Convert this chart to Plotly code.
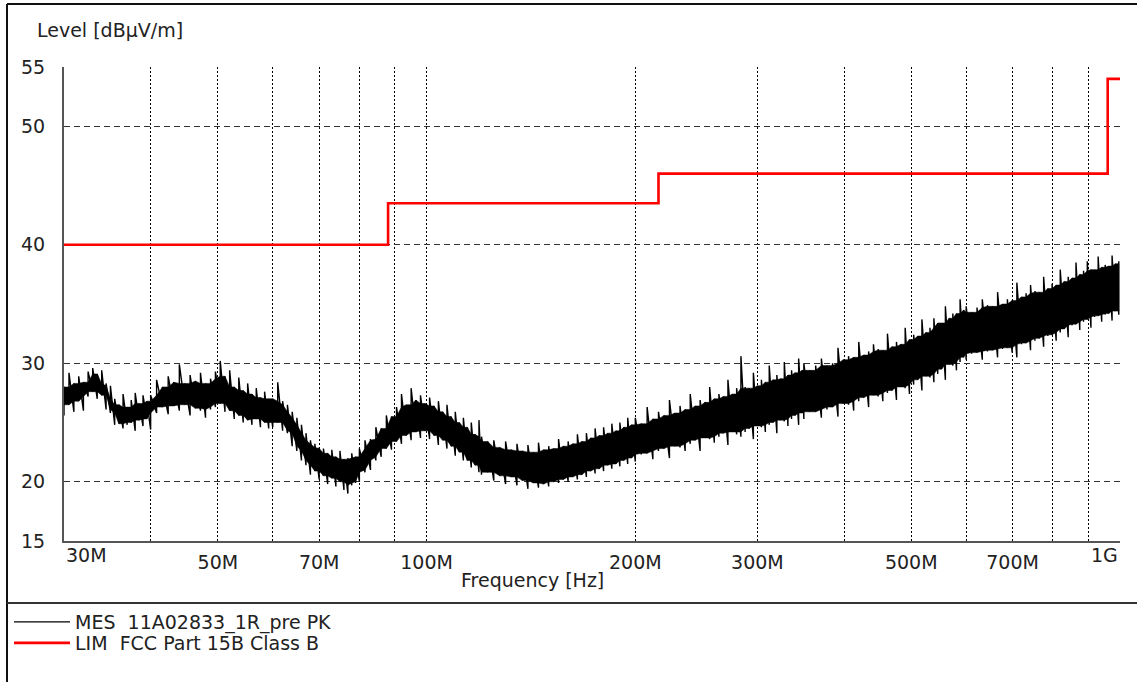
import math
import plotly.graph_objects as go

# ---------------- data ----------------
mes_freq = [
    30.0, 30.5, 31.0, 31.5, 32.0, 32.5, 33.0, 33.5, 34.0, 34.5, 35.0, 35.5, 36.0, 36.5, 37.0, 37.5, 38.0, 38.5, 39.0, 39.5,
    40.0, 40.8, 41.6, 42.4, 43.2, 44.0, 44.8, 45.6, 46.4, 47.2, 48.0, 48.8, 49.6, 50.4, 51.2, 52.0, 52.8, 53.6, 54.4, 55.2,
    56.0, 56.8, 57.6, 58.4, 59.2,
    60, 61, 62, 63, 64, 65, 66, 67, 68, 69, 70, 71, 72, 73, 74, 75, 76, 77, 78, 79,
    80, 81.5, 83, 84.5, 86, 87.5, 89, 90.5, 92, 93.5, 95, 96.5, 98, 99.5, 101, 102.5, 104, 105.5, 107, 108.5,
    110, 111.5, 113, 114.5, 116, 117.5, 119,
    120.0, 122.5, 125.0, 127.5, 130.0, 132.5, 135.0, 137.5, 140.0, 142.5, 145.0, 147.5, 150.0, 152.5, 155.0, 157.5,
    160.0, 162.5, 165.0, 167.5, 170.0, 172.5, 175.0, 177.5, 180.0, 182.5, 185.0, 187.5, 190.0, 192.5, 195.0, 197.5,
    200, 204, 208, 212, 216, 220, 224, 228, 232, 236, 240, 244, 248, 252, 256, 260, 264, 268, 272, 276,
    280, 284, 288, 292, 296, 300, 304, 308, 312, 316, 320, 324, 328, 332, 336, 340, 344, 348,
    350, 357, 364, 371, 378, 385, 392, 399, 406, 413, 420, 427, 434, 441, 448, 455, 462, 469,
    476, 483, 490, 497, 504, 511, 518, 525, 532, 539, 546, 553, 560, 567, 574, 581, 588, 595,
    600, 611, 622, 633, 644, 655, 666, 677, 688, 699, 710, 721, 732, 743, 754, 765, 776, 787, 798,
    809, 820, 831, 842, 853, 864, 875, 886, 897, 908, 919, 930, 941, 952, 963, 974, 985, 996,
]
mes_low = [
    25.6, 26.5, 25.9, 26.8, 26.0, 27.2, 27.6, 27.0, 27.3, 26.1, 25.8, 24.8, 24.9, 24.5, 24.8, 25.0, 24.3, 25.2, 24.7, 25.3,
    24.4, 25.8, 26.3, 25.7, 26.4, 26.0, 26.5, 25.6, 26.2, 26.0, 25.4, 26.1, 26.3, 26.6, 25.9, 26.0, 25.3, 25.6, 25.0, 25.2,
    24.8, 25.3, 24.6, 25.0, 24.5,
    24.6, 25.0, 24.3, 24.1, 23.0, 22.6, 21.8, 21.4, 20.6, 20.9, 20.2, 20.5, 19.8, 20.3, 19.6, 20.0, 19.3, 19.0, 19.7, 19.9,
    20.0, 20.8, 21.0, 21.8, 22.1, 22.8, 22.7, 23.4, 23.2, 23.9, 23.5, 24.2, 23.7, 24.3, 23.6, 23.9, 23.1, 23.5, 22.8, 23.0,
    22.2, 22.5, 21.8, 21.8, 21.2, 21.4, 20.8,
    20.6, 20.8, 20.1, 20.5, 19.8, 20.4, 19.7, 20.1, 19.4, 19.9, 19.5, 19.8, 19.6, 20.0, 19.9, 20.2,
    20.0, 20.4, 20.2, 20.6, 20.4, 20.9, 20.7, 21.1, 20.9, 21.4, 21.1, 21.5, 21.3, 21.8, 21.5, 22.0,
    21.7, 22.3, 22.4, 21.9, 22.6, 22.8, 22.0, 23.0, 22.9, 22.6, 23.2, 23.5, 22.6, 23.7, 23.6, 23.3, 23.8, 24.1, 23.1, 24.2,
    24.0, 23.8, 24.2, 24.5, 23.6, 24.7, 24.6, 24.2, 24.8, 25.0, 24.1, 25.2, 25.1, 24.7, 25.3, 25.6, 24.8, 25.8,
    25.3, 25.9, 25.9, 25.4, 26.1, 26.3, 25.5, 26.6, 26.5, 26.0, 26.8, 27.1, 26.3, 27.3, 27.2, 26.8, 27.5, 27.7,
    26.9, 28.0, 27.9, 27.4, 28.2, 28.6, 27.7, 28.9, 28.8, 28.4, 29.1, 29.5, 28.6, 29.9, 29.8, 29.4, 30.1, 30.5,
    30.3, 30.8, 30.9, 30.3, 31.0, 31.1, 30.5, 31.2, 31.3, 30.9, 30.5, 31.6, 31.7, 31.1, 31.9, 32.1, 31.4, 32.3, 32.4,
    31.9, 32.6, 32.9, 32.2, 33.2, 33.3, 32.8, 33.5, 33.7, 33.0, 33.9, 34.0, 33.5, 34.1, 34.2, 33.6, 34.4, 34.1,
]
mes_high = [
    28.0, 29.2, 28.3, 28.9, 28.4, 29.3, 29.6, 29.1, 29.4, 28.3, 28.1, 27.0, 26.5, 27.4, 26.3, 26.9, 27.5, 26.6, 27.3, 26.8,
    27.3, 28.6, 28.0, 28.9, 28.4, 29.9, 28.3, 29.0, 28.5, 29.2, 28.3, 28.7, 29.3, 30.2, 28.9, 29.4, 28.0, 28.8, 27.7, 28.3,
    27.4, 27.9, 27.1, 27.6, 27.0,
    27.0, 28.4, 26.8, 26.5, 25.9, 25.4, 24.8, 24.1, 23.5, 23.2, 22.9, 22.8, 22.4, 22.7, 22.1, 22.6, 21.9, 22.0, 22.4, 22.1,
    22.8, 23.5, 23.6, 24.6, 24.5, 25.6, 25.5, 26.3, 27.4, 26.5, 27.9, 26.9, 27.3, 26.6, 27.1, 26.4, 26.8, 25.9, 26.5, 25.5,
    25.9, 25.0, 25.4, 24.6, 25.0, 24.0, 25.2,
    23.8, 23.4, 23.5, 22.9, 23.4, 22.7, 23.2, 22.6, 23.1, 22.5, 23.3, 22.7, 23.0, 22.8, 23.6, 23.0,
    23.4, 23.2, 24.0, 23.4, 24.1, 23.7, 24.5, 23.9, 24.6, 24.1, 24.9, 24.3, 25.0, 24.6, 25.4, 24.8,
    25.4, 24.9, 26.3, 25.3, 25.9, 25.6, 26.9, 25.8, 26.4, 26.1, 27.4, 26.4, 26.9, 26.7, 28.0, 27.0, 27.4, 27.2, 28.6, 27.4,
    27.9, 30.6, 28.0, 27.9, 29.2, 28.1, 28.6, 28.4, 29.8, 28.6, 29.0, 28.7, 30.1, 29.0, 29.4, 29.2, 30.4, 29.4,
    30.0, 29.4, 29.8, 30.4, 29.8, 30.0, 31.3, 30.3, 30.6, 30.5, 31.8, 30.7, 31.0, 31.6, 31.2, 31.1, 32.5, 31.4,
    31.8, 31.6, 33.0, 32.0, 32.4, 32.3, 33.7, 32.6, 33.0, 33.8, 33.4, 33.4, 34.8, 33.8, 34.2, 34.2, 35.4, 34.5,
    34.8, 34.3, 34.7, 35.4, 34.9, 34.8, 36.0, 35.0, 35.4, 35.3, 36.8, 35.6, 35.9, 36.6, 36.1, 36.0, 37.3, 36.3, 36.7,
    36.6, 37.9, 36.9, 37.3, 37.2, 38.5, 37.5, 37.8, 38.6, 37.9, 37.9, 39.0, 38.1, 38.3, 38.2, 39.1, 38.4, 38.6,
]

# FCC Part 15B Class B limit (step function)
lim_freq = [30, 88, 216, 960, 1000]
lim_level = [40.0, 43.5, 46.0, 54.0, 54.0]

x_tick_vals = [30, 50, 70, 100, 200, 300, 500, 700, 1000]
x_tick_text = ["", "50M", "70M", "100M", "200M", "300M", "500M", "700M", ""]
x_minor_vals = [40, 60, 80, 90, 400, 600, 800, 900]
y_tick_vals = [15, 20, 30, 40, 50, 55]

mes_name = "MES  11A02833_1R_pre PK"
lim_name = "LIM  FCC Part 15B Class B"

# ---------------- figure ----------------
W, H = 1137, 682
L, R, T, B = 64, 17, 67, 141
PW, PH = W - L - R, H - T - B


def px(xp):
    return (xp - L) / PW


def py(yp):
    return (H - B - yp) / PH


# dense core of the noise band (overlap of neighbouring sweep points)
n = len(mes_freq)
core_hi, core_lo = [], []
for i in range(n):
    hi = min(mes_high[max(0, i - 1):i + 2])
    lo = max(mes_low[max(0, i - 1):i + 2])
    if lo > hi:
        lo = hi
    core_hi.append(hi)
    core_lo.append(lo)

# peak trace drawn as vertical low->high strokes at each sweep point
zx, zy = [], []
for f, lo, hi in zip(mes_freq, mes_low, mes_high):
    zx += [f, f]
    zy += [lo, hi]

FONT = "DejaVu Sans"
TXT = "#222222"
FS = 19

fig = go.Figure()
fig.add_trace(go.Scatter(x=mes_freq + mes_freq[::-1], y=core_hi + core_lo[::-1],
                         mode="lines", fill="toself", fillcolor="black",
                         line=dict(color="black", width=0.5),
                         showlegend=False, hoverinfo="skip", legendgroup="mes"))
fig.add_trace(go.Scatter(x=zx, y=zy, mode="lines", name=mes_name, legendgroup="mes",
                         line=dict(color="black", width=1.4), legend="legend"))
fig.add_trace(go.Scatter(x=lim_freq, y=lim_level, mode="lines", name=lim_name,
                         line=dict(color="#ff0000", width=2.6, shape="hv"), legend="legend2"))

legend_common = dict(xanchor="left", yanchor="top", bgcolor="rgba(0,0,0,0)",
                     font=dict(size=FS, family=FONT, color=TXT), itemwidth=56,
                     tracegroupgap=0)

fig.update_layout(
    width=W, height=H,
    margin=dict(l=L, r=R, t=T, b=B, autoexpand=False),
    paper_bgcolor="white", plot_bgcolor="white",
    font=dict(family=FONT, size=FS, color=TXT),
    showlegend=True,
    legend=dict(x=px(9), y=py(603), **legend_common),
    legend2=dict(x=px(9), y=py(624), **legend_common),
    xaxis=dict(type="log", range=[math.log10(30), math.log10(1000)],
               tickmode="array", tickvals=x_tick_vals, ticktext=x_tick_text,
               showgrid=True, gridcolor="black", gridwidth=1, griddash="2px,2px",
               minor=dict(tickmode="array", tickvals=x_minor_vals, showgrid=True,
                          gridcolor="black", gridwidth=1, griddash="2px,2px", ticks=""),
               showline=True, linecolor="#555555", linewidth=2,
               zeroline=False, ticks="", ticklabelstandoff=3,
               tickfont=dict(family=FONT, size=FS, color=TXT)),
    yaxis=dict(range=[15, 55], tickmode="array", tickvals=y_tick_vals,
               showgrid=True, gridcolor="#333333", gridwidth=1, griddash="6px,4px",
               showline=True, linecolor="#555555", linewidth=2,
               zeroline=False, ticks="", ticklabelstandoff=13,
               tickfont=dict(family=FONT, size=FS, color=TXT)),
    annotations=[
        dict(text="Level [dBμV/m]", x=px(35), y=py(30), xref="paper", yref="paper",
             xanchor="left", yanchor="middle", showarrow=False,
             font=dict(family=FONT, size=FS, color=TXT)),
        dict(text="Frequency [Hz]", x=px(532), y=py(580), xref="paper", yref="paper",
             xanchor="center", yanchor="middle", showarrow=False,
             font=dict(family=FONT, size=FS, color=TXT)),
        dict(text="30M", x=math.log10(30), y=py(555), xref="x", yref="paper",
             xanchor="left", yanchor="middle", showarrow=False,
             font=dict(family=FONT, size=FS, color=TXT)),
        dict(text="1G", x=math.log10(1000), y=py(555), xref="x", yref="paper",
             xanchor="right", yanchor="middle", showarrow=False,
             font=dict(family=FONT, size=FS, color=TXT)),
    ],
    shapes=[
        dict(type="line", xref="paper", yref="paper", x0=px(7), x1=px(W), y0=py(4), y1=py(4),
             line=dict(color="#111111", width=2)),
        dict(type="line", xref="paper", yref="paper", x0=px(7), x1=px(7), y0=py(4), y1=py(H),
             line=dict(color="#111111", width=2)),
        dict(type="line", xref="paper", yref="paper", x0=px(7), x1=px(W), y0=py(603), y1=py(603),
             line=dict(color="#333333", width=2)),
    ],
)

# the page body has a default 8px margin; remove it so the figure sits at the window origin
fig.write_html("out.html", config={"displayModeBar": False},
               post_script="document.body.style.margin='0';")
